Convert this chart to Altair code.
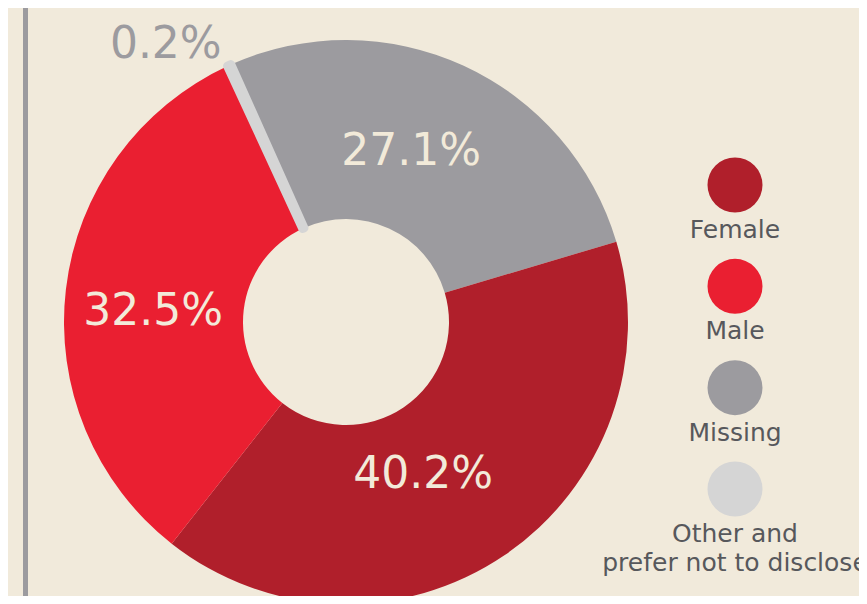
import math
import altair as alt
import pandas as pd

# ---- data ----
categories = ["Missing", "Female", "Male", "Other"]
values = [27.1, 40.2, 32.5, 0.2]
pct_labels = ["27.1%", "40.2%", "32.5%", "0.2%"]
order = [1, 2, 3, 4]

legend_cats = ["Female", "Male", "Missing", "Other"]
legend_texts = ["Female", "Male", "Missing", "Other and\nprefer not to disclose"]

colors = ["#b01f2b", "#ea1f31", "#9c9b9f", "#d5d5d5"]  # Female, Male, Missing, Other
BG = "#f1eadb"
BEIGE = "#f2ead9"
GREY_TXT = "#9c9b9f"
LEG_TXT = "#57585c"

df = pd.DataFrame({"category": categories, "value": values,
                   "label": pct_labels, "ord": order})
leg = pd.DataFrame({"category": legend_cats, "text": legend_texts})

CX, CY = 338, 314
start = math.radians(-24.1)
theta_scale = alt.Scale(domain=[0, 100], range=[start, start + 2 * math.pi])
color_scale = alt.Scale(domain=legend_cats, range=colors)

base = (alt.Chart(df)
        .transform_window(end="sum(value)", sort=[alt.SortField("ord")], frame=[None, 0])
        .transform_calculate(start="datum.end - datum.value",
                             mid="datum.end - datum.value / 2"))

arcs = base.mark_arc(outerRadius=282, innerRadius=103, strokeJoin="round").encode(
    theta=alt.Theta("start:Q", scale=theta_scale),
    theta2="end:Q",
    x=alt.value(CX), y=alt.value(CY),
    color=alt.Color("category:N", scale=color_scale, legend=None),
    stroke=alt.Color("category:N", scale=color_scale, legend=None),
    strokeWidth=alt.condition("datum.category == 'Other'", alt.value(9), alt.value(0)),
    order=alt.Order("ord:Q"),
)

label_style = {
    "Missing": dict(radius=180, dx=-10, dy=-6, color=BEIGE),
    "Female": dict(radius=180, dx=-24, dy=4, color=BEIGE),
    "Male": dict(radius=180, dx=-14, dy=11, color=BEIGE),
    "Other": dict(radius=300, dx=-56, dy=-4, color=GREY_TXT),
}
text_layers = []
for cat, st in label_style.items():
    text_layers.append(
        base.transform_filter(alt.datum.category == cat)
        .mark_text(font="DejaVu Sans", fontSize=44, baseline="middle", align="center",
                   radius=st["radius"], dx=st["dx"], dy=st["dy"], color=st["color"])
        .encode(theta=alt.Theta("mid:Q", scale=theta_scale),
                x=alt.value(CX), y=alt.value(CY), text="label:N")
    )

leg_y = alt.Y("category:N", sort=legend_cats, axis=None,
              scale=alt.Scale(type="point", range=[177, 481], padding=0))
leg_pts = alt.Chart(leg).mark_point(filled=True, opacity=1, size=3025, shape="circle").encode(
    x=alt.value(727), y=leg_y,
    color=alt.Color("category:N", scale=color_scale, legend=None),
)
leg_txt = alt.Chart(leg).mark_text(font="DejaVu Sans", fontSize=25, align="center",
                                   baseline="alphabetic", dy=53, lineBreak="\n",
                                   lineHeight=29, color=LEG_TXT).encode(
    x=alt.value(727), y=leg_y, text="text:N")

frame = alt.Chart(df).mark_rule(color="#9c9b9f", strokeWidth=5).encode(
    x=alt.value(17.5), y=alt.value(0), y2=alt.value(600))

chart = alt.layer(frame, arcs, *text_layers, leg_pts, leg_txt).properties(
    width=851, height=588,
    autosize=alt.AutoSizeParams(type="none"),
    padding=0,
    background=BG,
).configure_view(stroke=None)

chart.save("out.html", embed_options={"renderer": "svg", "actions": False})
